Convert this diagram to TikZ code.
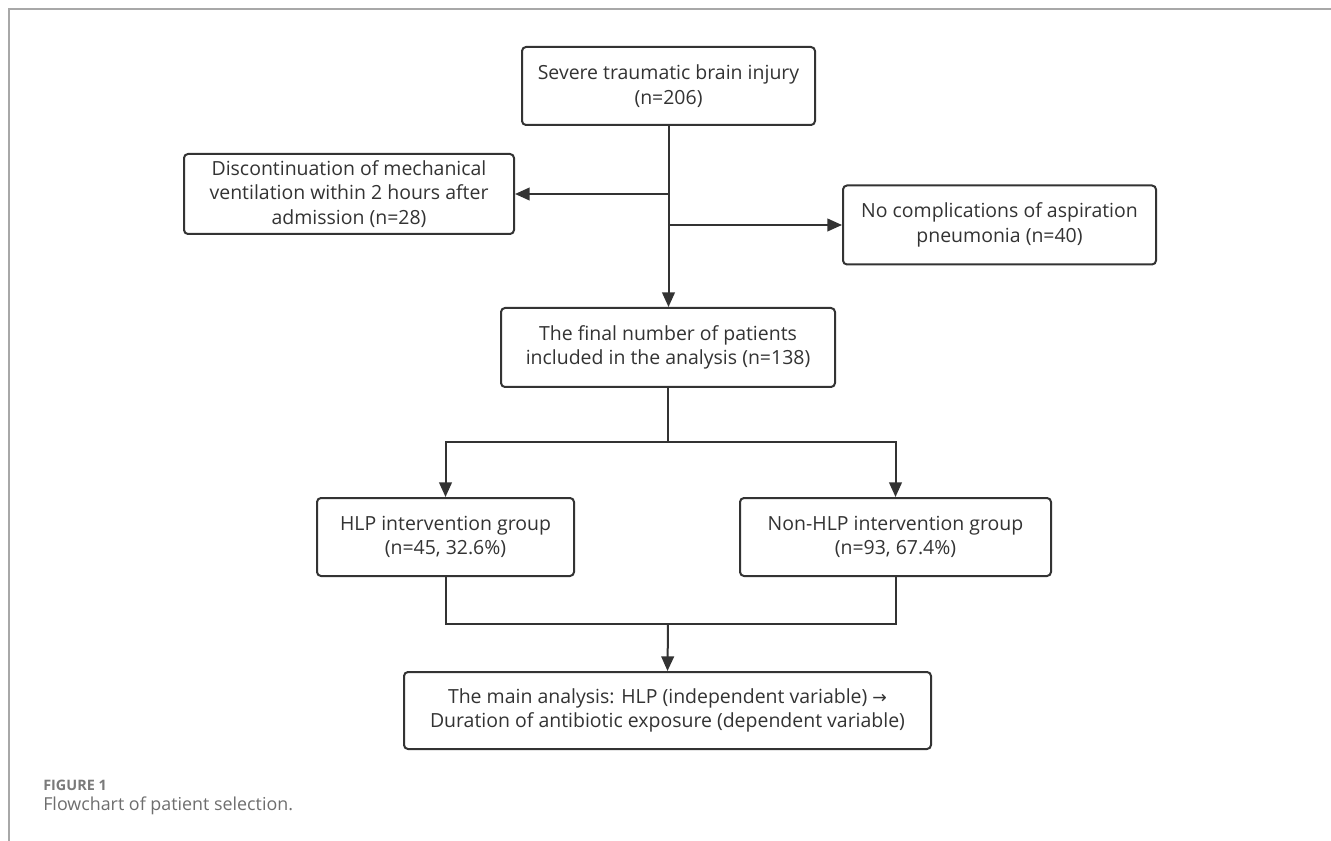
\documentclass[tikz,border=0pt]{standalone}
\usepackage{fontspec}
\setmainfont{Open Sans}
\newfontfamily\symfont{DejaVu Sans}
\usetikzlibrary{arrows.meta}
\definecolor{ink}{HTML}{333333}
\definecolor{frame}{HTML}{A8A8A8}
\definecolor{capgray}{HTML}{7A7A7A}
\tikzset{
  box/.style={draw=ink, line width=1.5pt, rounded corners=3pt, fill=white, text=ink,
    align=center, inner sep=0pt, font=\fontsize{14.6pt}{18.5pt}\selectfont},
  link/.style={draw=ink, line width=1.5pt},
  arr/.style={link, -{Triangle[width=9.5pt,length=11pt]}}
}
\begin{document}
\begin{tikzpicture}[x=0.75pt,y=-0.75pt]
\useasboundingbox[fill=white] (0,0) rectangle (1331,841);
% frame lines
\draw[frame, line width=1.5pt] (9,841) -- (9,9) -- (1331,9);

\node[box, minimum width=219.75pt, minimum height=58.5pt] (b1) at (668.5,86)
  {Severe traumatic brain injury\\(n=206)};
\node[box, minimum width=247.5pt, minimum height=60pt] (b2) at (349,194)
  {Discontinuation of mechanical\\ventilation within 2 hours after\\admission (n=28)};
\node[box, minimum width=234.75pt, minimum height=59.25pt] (b4) at (999.5,225)
  {No complications of aspiration\\pneumonia (n=40)};
\node[box, minimum width=250.5pt, minimum height=59.25pt] (b3) at (668,347.5)
  {The final number of patients\\included in the analysis (n=138)};
\node[box, minimum width=192.75pt, minimum height=58.5pt] (b5) at (445.5,537)
  {HLP intervention group\\(n=45, 32.6\%)};
\node[box, minimum width=233.25pt, minimum height=58.5pt] (b6) at (895.5,537)
  {Non-HLP intervention group\\(n=93, 67.4\%)};
\node[box, minimum width=395.25pt, minimum height=57.75pt] (b7) at (667.5,710.5)
  {The main analysis: HLP (independent variable) {\symfont\fontsize{13pt}{18pt}\selectfont →}\\Duration of antibiotic exposure (dependent variable)};

% connectors
\draw[arr] (b1.south) -- (b1.south |- b3.north);
\draw[arr] (b1.south |- b2.east) -- (b2.east);
\draw[arr] (b1.south |- b4.west) -- (b4.west);

\coordinate (s1) at (668,442);
\draw[link] (b3.south) -- (s1);
\draw[arr] (s1) -| (b5.north);
\draw[arr] (s1) -| (b6.north);

\coordinate (m1) at (668,624);
\draw[link] (b5.south) |- (m1);
\draw[link] (b6.south) |- (m1);
\draw[arr] (m1) -- (b7.north);

% caption
\node[anchor=west, inner sep=0pt, text=capgray, font=\fontsize{10.8pt}{13pt}\selectfont\bfseries] (cap1) at (43,785) {FIGURE 1};
\node[anchor=west, inner sep=0pt, text=capgray!90!black, font=\fontsize{13.4pt}{16pt}\selectfont] (cap2) at (43,806) {Flowchart of patient selection.};
\end{tikzpicture}
\end{document}
